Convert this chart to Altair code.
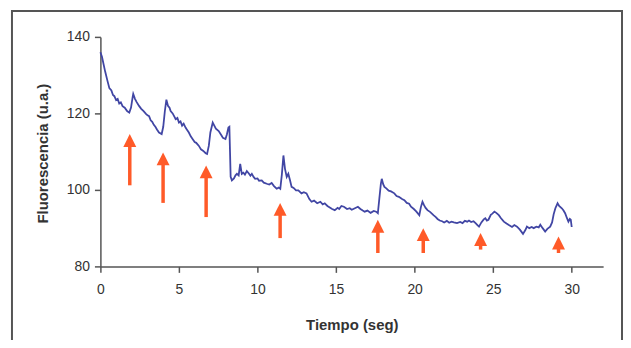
import altair as alt
import pandas as pd

# ---- data ----
time_s = [0.0, 0.1, 0.3, 0.45, 0.57, 0.7, 0.8, 0.89, 1.0, 1.1, 1.2, 1.3, 1.41, 1.55, 1.7, 1.84,
          1.95, 2.05, 2.09, 2.2, 2.3, 2.47, 2.6, 2.75, 2.9, 3.0, 3.1, 3.2, 3.3, 3.4, 3.5, 3.6,
          3.73, 3.9, 4.0, 4.1, 4.2, 4.3, 4.4, 4.47, 4.6, 4.7, 4.79, 4.9, 5.0, 5.1, 5.2, 5.3,
          5.42, 5.5, 5.63, 5.75, 5.9, 6.0, 6.1, 6.27, 6.4, 6.55, 6.7, 6.79, 6.9, 7.0, 7.15,
          7.25, 7.35, 7.53, 7.7, 7.8, 7.96, 8.05, 8.15, 8.21, 8.25, 8.29, 8.37, 8.5, 8.6, 8.69,
          8.8, 8.9, 9.0, 9.1, 9.2, 9.32, 9.45, 9.55, 9.64, 9.75, 9.85, 10.0, 10.1, 10.27, 10.4,
          10.59, 10.75, 10.9, 11.05, 11.22, 11.35, 11.45, 11.55, 11.65, 11.75, 11.86, 11.96,
          12.07, 12.17, 12.3, 12.45, 12.6, 12.8, 12.95, 13.12, 13.3, 13.44, 13.6, 13.8, 14.0,
          14.15, 14.28, 14.45, 14.6, 14.75, 14.92, 15.1, 15.2, 15.34, 15.5, 15.7, 15.87, 16.0,
          16.2, 16.39, 16.55, 16.7, 16.82, 17.0, 17.2, 17.4, 17.55, 17.66, 17.75, 17.85, 17.91,
          18.0, 18.08, 18.2, 18.35, 18.5, 18.71, 18.85, 19.0, 19.2, 19.35, 19.5, 19.65, 19.77,
          19.95, 20.1, 20.3, 20.4, 20.5, 20.6, 20.7, 20.82, 21.0, 21.2, 21.35, 21.46, 21.6,
          21.75, 21.88, 22.05, 22.2, 22.35, 22.5, 22.7, 22.9, 23.05, 23.2, 23.35, 23.46, 23.6,
          23.75, 23.88, 24.0, 24.1, 24.25, 24.4, 24.5, 24.6, 24.7, 24.85, 24.95, 25.08, 25.2,
          25.36, 25.5, 25.68, 25.85, 26.0, 26.2, 26.35, 26.52, 26.7, 26.9, 27.05, 27.15, 27.3,
          27.45, 27.58, 27.75, 27.9, 28.0, 28.15, 28.31, 28.45, 28.63, 28.75, 28.85, 28.96,
          29.1, 29.2, 29.37, 29.48, 29.58, 29.7, 29.79, 29.88, 29.94, 30.0]
fluor = [136.0, 134.8, 131.0, 128.5, 126.6, 126.0, 124.8, 124.5, 123.5, 123.8, 122.6, 122.9,
         121.9, 121.5, 120.6, 120.2, 121.5, 124.2, 125.1, 123.8, 123.0, 121.9, 121.2, 120.6,
         119.9, 119.5, 119.3, 118.2, 117.8, 117.0, 116.5, 115.8, 115.0, 114.6, 116.5, 120.5,
         123.6, 122.0, 121.5, 120.6, 120.0, 119.2, 118.5, 118.8, 117.6, 117.9, 116.8, 117.3,
         116.3, 115.8, 115.0, 114.0, 113.1, 112.5, 112.3, 111.5, 110.6, 110.2, 109.6, 109.4,
         111.5, 115.0, 117.6, 116.8, 116.0, 115.4, 114.3, 113.6, 113.3, 114.5, 116.3, 116.5,
         110.0, 103.4, 102.5, 103.0, 103.8, 104.2, 103.8, 106.8, 104.2, 104.5, 104.0, 104.9,
         104.3, 103.7, 104.2, 103.4, 102.9, 103.0, 102.4, 102.5, 101.9, 101.6, 101.4, 101.8,
         101.0, 100.3, 100.6, 100.3, 104.0, 109.0, 105.5, 103.4, 104.2, 102.5, 100.8, 100.5,
         99.9, 99.9, 99.1, 99.4, 99.1, 97.6, 96.9, 97.2, 96.5, 96.9, 96.2, 96.5, 95.8, 95.4,
         95.0, 94.7, 95.3, 95.0, 95.8, 95.6, 95.0, 95.2, 94.8, 95.2, 95.6, 95.0, 94.6, 94.3,
         94.6, 94.0, 94.5, 94.3, 93.9, 97.5, 101.5, 102.9, 101.5, 100.8, 100.4, 99.8, 99.6,
         99.1, 98.4, 98.2, 97.6, 97.3, 96.6, 96.4, 95.6, 95.0, 94.4, 93.4, 95.5, 96.9, 96.0,
         95.3, 94.7, 94.2, 93.4, 92.9, 92.4, 92.0, 91.8, 91.5, 91.9, 91.4, 91.7, 91.5, 91.3,
         91.6, 91.3, 91.9, 91.7, 92.0, 91.6, 91.8, 91.3, 90.8, 90.4, 91.5, 92.3, 92.6, 92.0,
         92.2, 93.5, 93.8, 94.3, 94.0, 93.4, 92.6, 91.7, 91.2, 90.8, 90.3, 90.8, 90.4, 89.6,
         88.5, 89.5, 90.4, 90.0, 90.3, 90.0, 90.4, 90.2, 90.9, 90.0, 89.1, 89.8, 90.4, 91.5,
         93.6, 95.2, 96.5, 95.8, 95.2, 94.6, 93.9, 92.6, 91.7, 92.4, 92.2, 90.3]

arrow_t = [1.87, 3.99, 6.73, 11.44, 17.66, 20.55, 24.2, 29.16]
arrow_tip = [114.6, 109.8, 106.4, 96.6, 92.2, 90.0, 88.7, 87.8]
arrow_tail = [101.2, 96.6, 92.9, 87.4, 83.5, 83.5, 84.4, 83.5]

x_ticks = [0, 5, 10, 15, 20, 25, 30]
y_ticks = [80, 100, 120, 140]

line_df = pd.DataFrame({"t": time_s, "f": fluor})
arr_df = pd.DataFrame({"t": arrow_t, "tip": arrow_tip, "tail": arrow_tail})
frame_df = pd.DataFrame({"k": [0]})

LINE = "#4146A4"
ARROW = "#FF5A28"
AXIS = "#555555"
FONT = "Liberation Sans"

x_scale = alt.Scale(domain=[0, 32], nice=False, zero=False)
y_scale = alt.Scale(domain=[80, 140], nice=False, zero=False)

x_axis = alt.Axis(values=x_ticks, title="Tiempo (seg)", grid=False,
                  domainColor=AXIS, domainWidth=1.5, tickColor=AXIS, tickWidth=1.5,
                  tickSize=6, labelFont=FONT, labelFontSize=14, labelColor="#333333",
                  labelPadding=10, labelFlush=False, labelOverlap=False,
                  titleFont=FONT, titleFontSize=15, titleFontWeight="bold",
                  titleColor="#333333", titleY=59, titleBaseline="middle")
y_axis = alt.Axis(values=y_ticks, title="Fluorescencia (u.a.)", grid=False,
                  domainColor=AXIS, domainWidth=1.5, tickColor=AXIS, tickWidth=1.5,
                  tickSize=6, labelFont=FONT, labelFontSize=14, labelColor="#333333",
                  labelPadding=5, labelFlush=False, labelOverlap=False,
                  titleFont=FONT, titleFontSize=15, titleFontWeight="bold",
                  titleColor="#333333", titleX=-58, titleY=117, titleAngle=270,
                  titleBaseline="middle", titleAlign="center")

frame = alt.Chart(frame_df).mark_rect(fill="transparent", stroke="#555555", strokeWidth=2).encode(
    x=alt.value(-89), x2=alt.value(525), y=alt.value(-26), y2=alt.value(330)
)

line = alt.Chart(line_df).mark_line(color=LINE, strokeWidth=1.8).encode(
    x=alt.X("t:Q", scale=x_scale, axis=x_axis),
    y=alt.Y("f:Q", scale=y_scale, axis=y_axis),
)

stems = alt.Chart(arr_df).mark_rule(color=ARROW, strokeWidth=3.5, y2Offset=8).encode(
    x=alt.X("t:Q", scale=x_scale, axis=x_axis),
    y=alt.Y("tail:Q", scale=y_scale, axis=y_axis),
    y2="tip:Q",
)

heads = alt.Chart(arr_df).mark_point(shape="M0,-1L1,1L-1,1Z", size=169, filled=True,
                                     fill=ARROW, opacity=1, strokeWidth=0, yOffset=6.5).encode(
    x=alt.X("t:Q", scale=x_scale, axis=x_axis),
    y=alt.Y("tip:Q", scale=y_scale, axis=y_axis),
)

chart = alt.layer(frame, line, stems, heads).properties(
    width=506, height=231,
    padding={"left": 93, "top": 28, "right": 20, "bottom": 73},
    autosize=alt.AutoSizeParams(type="none"),
    background="white",
).configure_view(stroke=None)

chart.save("out.html", embed_options={"renderer": "svg", "actions": False})
